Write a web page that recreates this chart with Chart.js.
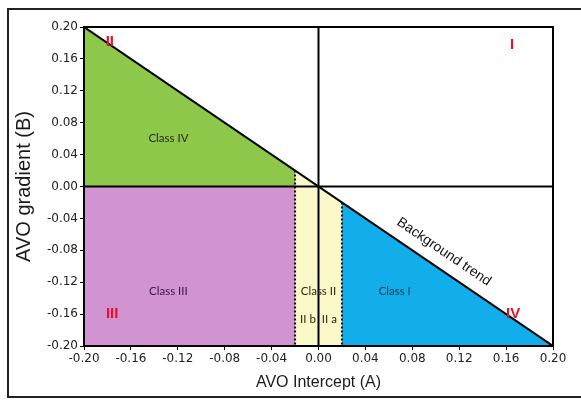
<!DOCTYPE html>
<html>
<head>
<meta charset="utf-8">
<script src="https://cdn.jsdelivr.net/npm/chart.js@4/dist/chart.umd.min.js"></script>
<style>
  html, body { margin: 0; padding: 0; background: #fff; }
  #wrap { width: 581px; height: 401px; position: relative; }
</style>
</head>
<body>
<div id="wrap"><canvas id="c" width="581" height="401"></canvas></div>
<script>
// Axis ticks (AVO intercept A / gradient B)
const xTickValues = [-0.20, -0.16, -0.12, -0.08, -0.04, 0.00, 0.04, 0.08, 0.12, 0.16, 0.20];
const yTickValues = [-0.20, -0.16, -0.12, -0.08, -0.04, 0.00, 0.04, 0.08, 0.12, 0.16, 0.20];

// Class regions as polygons [A, B]
const classIVRegion  = [[-0.20, 0.20], [-0.20, 0.00], [-0.02, 0.00], [-0.02, 0.02]];
const classIIIRegion = [[-0.20, 0.00], [-0.02, 0.00], [-0.02, -0.20], [-0.20, -0.20]];
const classIIRegion  = [[-0.02, 0.02], [0.00, 0.00], [0.02, -0.02], [0.02, -0.20], [-0.02, -0.20]];
const classIRegion   = [[0.02, -0.02], [0.20, -0.20], [0.02, -0.20]];

// Reference lines
const backgroundTrend = [[-0.20, 0.20], [0.20, -0.20]];
const zeroA = [[0.00, 0.20], [0.00, -0.20]];
const zeroB = [[-0.20, 0.00], [0.20, 0.00]];
const classIIbLimit = [[-0.02, 0.02], [-0.02, -0.20]];
const classIIaLimit = [[0.02, -0.02], [0.02, -0.20]];

// Text labels placed in data space
const classLabels = [
  { text: 'Class IV', a: -0.128, b: 0.061, color: '#1f2a10' },
  { text: 'Class III', a: -0.128, b: -0.132, color: '#3b1446' },
  { text: 'Class II', a: 0.000, b: -0.132, color: '#2a2a10' },
  { text: 'II b  II a', a: 0.000, b: -0.167, color: '#2a2a10' },
  { text: 'Class I', a: 0.065, b: -0.132, color: '#0b3850' }
];
const quadrantLabels = [
  { text: 'II', a: -0.178, b: 0.181 },
  { text: 'I', a: 0.165, b: 0.178 },
  { text: 'III', a: -0.176, b: -0.160 },
  { text: 'IV', a: 0.166, b: -0.160 }
];
const trendLabel = { text: 'Background trend', a: 0.107, b: -0.082 };

const toPts = arr => arr.map(p => ({ x: p[0], y: p[1] }));
const closed = arr => toPts(arr.concat([arr[0]]));

function region(data, color) {
  return {
    data: closed(data), showLine: true, fill: 'shape',
    backgroundColor: color, borderWidth: 0, borderColor: 'rgba(0,0,0,0)',
    pointRadius: 0, order: 10
  };
}
function line(data, width, dash) {
  return {
    data: toPts(data), showLine: true, fill: false,
    borderColor: '#000', borderWidth: width, borderDash: dash || [],
    pointRadius: 0, order: 1
  };
}

const framePlugin = {
  id: 'frame',
  afterDraw(chart) {
    const { ctx, chartArea: ca } = chart;
    ctx.save();
    ctx.strokeStyle = '#000';
    ctx.lineWidth = 2;
    ctx.strokeRect(ca.left, ca.top, ca.right - ca.left, ca.bottom - ca.top);
    // figure frame
    ctx.strokeStyle = '#222';
    ctx.beginPath();
    ctx.moveTo(585, 9); ctx.lineTo(8, 9); ctx.lineTo(8, 397); ctx.lineTo(585, 397);
    ctx.stroke();
    ctx.restore();
  }
};

const labelPlugin = {
  id: 'labels',
  afterDatasetsDraw(chart) {
    const { ctx } = chart;
    const xs = chart.scales.x, ys = chart.scales.y;
    ctx.save();
    ctx.textAlign = 'center';
    ctx.textBaseline = 'middle';
    ctx.font = '11.5px Lato, "Open Sans", sans-serif';
    classLabels.forEach(l => {
      ctx.fillStyle = l.color;
      ctx.fillText(l.text, xs.getPixelForValue(l.a), ys.getPixelForValue(l.b));
    });
    ctx.font = 'bold 15px "Liberation Sans", Arial, sans-serif';
    ctx.fillStyle = '#e8102a';
    quadrantLabels.forEach(l => {
      ctx.fillText(l.text, xs.getPixelForValue(l.a), ys.getPixelForValue(l.b));
    });
    // label aligned with the trend line
    const x0 = xs.getPixelForValue(backgroundTrend[0][0]), y0 = ys.getPixelForValue(backgroundTrend[0][1]);
    const x1 = xs.getPixelForValue(backgroundTrend[1][0]), y1 = ys.getPixelForValue(backgroundTrend[1][1]);
    const ang = Math.atan2(y1 - y0, x1 - x0);
    ctx.translate(xs.getPixelForValue(trendLabel.a), ys.getPixelForValue(trendLabel.b));
    ctx.rotate(ang);
    ctx.fillStyle = '#111';
    ctx.font = '14px "Liberation Sans", Arial, sans-serif';
    ctx.fillText(trendLabel.text, 0, 0);
    ctx.restore();
  }
};

const tickFont = { family: '"DejaVu Sans", sans-serif', size: 12 };

new Chart(document.getElementById('c'), {
  type: 'scatter',
  data: {
    datasets: [
      region(classIVRegion, '#8dc84a'),
      region(classIIIRegion, '#d293d1'),
      region(classIIRegion, '#fbf8c9'),
      region(classIRegion, '#12adeb'),
      line(zeroA, 2),
      line(zeroB, 2),
      line(classIIbLimit, 2, [2, 2]),
      line(classIIaLimit, 2, [2, 2]),
      line(backgroundTrend, 2)
    ]
  },
  options: {
    responsive: false,
    animation: false,
    layout: { padding: { left: 10, top: 27, right: 28, bottom: 0 } },
    plugins: { legend: { display: false }, tooltip: { enabled: false } },
    scales: {
      x: {
        type: 'linear', min: -0.2, max: 0.2,
        afterBuildTicks: s => { s.ticks = xTickValues.map(v => ({ value: v })); },
        afterFit: s => { s.height = 55; },
        grid: { drawOnChartArea: false, drawTicks: true, tickLength: 4, color: '#000' },
        border: { display: true, color: '#000', width: 2 },
        ticks: { color: '#222', font: tickFont, padding: 2, maxRotation: 0, autoSkip: false,
                 callback: v => Number(v).toFixed(2) },
        title: { display: true, text: 'AVO Intercept (A)', color: '#1a1a1a',
                 font: { family: '"Liberation Sans", Arial, sans-serif', size: 16 }, padding: { top: 0, bottom: 9 } }
      },
      y: {
        type: 'linear', min: -0.2, max: 0.2,
        afterBuildTicks: s => { s.ticks = yTickValues.map(v => ({ value: v })); },
        afterFit: s => { s.width = 74; },
        grid: { drawOnChartArea: false, drawTicks: true, tickLength: 4, color: '#000' },
        border: { display: true, color: '#000', width: 2 },
        ticks: { color: '#222', font: tickFont, padding: 2, autoSkip: false,
                 callback: v => Number(v).toFixed(2) },
        title: { display: true, text: 'AVO gradient (B)', color: '#1a1a1a',
                 font: { family: '"Liberation Sans", Arial, sans-serif', size: 20 }, padding: { top: 2, bottom: 0 } }
      }
    }
  },
  plugins: [labelPlugin, framePlugin]
});
</script>
</body>
</html>
